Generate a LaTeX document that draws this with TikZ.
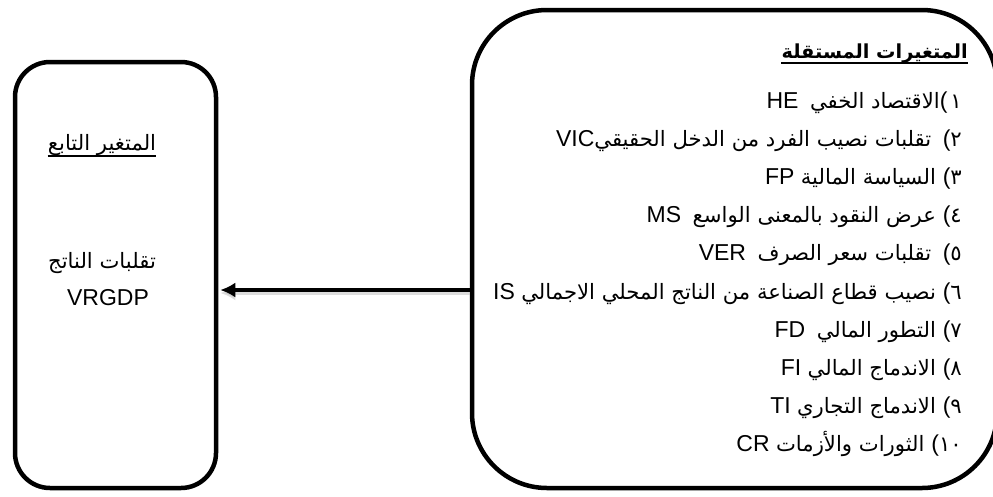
\documentclass[tikz,border=0pt]{standalone}
\usepackage{fontspec}
\setmainfont{Liberation Sans}
\newfontfamily\arabicfont[Script=Arabic,Scale=0.92]{DejaVu Sans}
\usetikzlibrary{arrows.meta}
\TeXXeTstate=1

% an Arabic phrase, set right to left
\newcommand{\ar}[1]{{\arabicfont\beginR #1\endR}}
% an Arabic-Indic item number
\newcommand{\num}[1]{{\arabicfont #1}}

\tikzset{
  box/.style={draw, line width=4.5pt, rounded corners=#1, inner sep=0pt},
  txt/.style={inner sep=0pt, font=\fontsize{23}{27}\selectfont},
  entry/.style={txt, anchor=base east},
  uline/.style={line width=1.5pt},
  link/.style={line width=4pt, -{Latex[length=15pt,width=15pt]}},
  linkshade/.style={link, black!30, opacity=0.45}
}

\begin{document}
\begin{tikzpicture}[x=1pt,y=-1pt]
\useasboundingbox (0,0) rectangle (993,496);
\clip (0,0) rectangle (993,496);

% dependent variable box
\node[box=35pt, minimum width=201pt, minimum height=426pt] (lb) at (115.5,275) {};
% independent variables box
\node[box=75pt, minimum width=525pt, minimum height=478pt] (rb) at (734.5,249) {};

% dependent variable texts
\node[txt, anchor=base] (lt) at (102,150) {\ar{المتغير التابع}};
\draw[uline] ([yshift=-6pt]lt.base west) -- ([yshift=-6pt]lt.base east);
\node[txt, anchor=base] (lv1) at (102,268) {\ar{تقلبات الناتج}};
\node[txt, anchor=base] (lv2) at (108,305) {VRGDP};

% independent variables title
\node[txt, anchor=base east] (rt) at (968,58) {\fontsize{21}{25}\selectfont\bfseries\ar{المتغيرات المستقلة}};
\draw[uline] ([yshift=-5pt]rt.base west) -- ([yshift=-5pt]rt.base east);

% list of independent variables
\node[entry] (e1) at (962,108) {HE\hspace{0.5em}\ar{الاقتصاد الخفي}(\hspace{3pt}\num{١}};
\node[entry] (e2) at (962,146.2) {VIC\ar{تقلبات نصيب الفرد من الدخل الحقيقي}\hspace{0.5em}(\num{٢}};
\node[entry] (e3) at (962,184.4) {FP \ar{السياسة المالية}\hspace{0.3em}(\num{٣}};
\node[entry] (e4) at (962,222.6) {MS\hspace{0.5em}\ar{عرض النقود بالمعنى الواسع}\hspace{0.3em}(\num{٤}};
\node[entry] (e5) at (962,260.8) {VER\hspace{0.5em}\ar{تقلبات سعر الصرف}\hspace{0.5em}(\num{٥}};
\node[entry] (e6) at (962,299) {IS \ar{نصيب قطاع الصناعة من الناتج المحلي الاجمالي}\hspace{0.3em}(\num{٦}};
\node[entry] (e7) at (962,337.2) {FD\hspace{0.5em}\ar{التطور المالي}\hspace{0.3em}(\num{٧}};
\node[entry] (e8) at (962,375.4) {FI \ar{الاندماج المالي}\hspace{0.3em}(\num{٨}};
\node[entry] (e9) at (962,413.6) {TI \ar{الاندماج التجاري}\hspace{0.3em}(\num{٩}};
\node[entry] (e10) at (962,451.8) {CR \ar{الثورات والأزمات}\hspace{0.3em}(\num{١٠}};

% influence arrow
\coordinate (ay) at (0,290);
\draw[linkshade] ([yshift=-3pt]rb.west |- ay) -- ([xshift=2pt,yshift=-3pt]lb.east |- ay);
\draw[link] (rb.west |- ay) -- ([xshift=2pt]lb.east |- ay);
\end{tikzpicture}
\end{document}
